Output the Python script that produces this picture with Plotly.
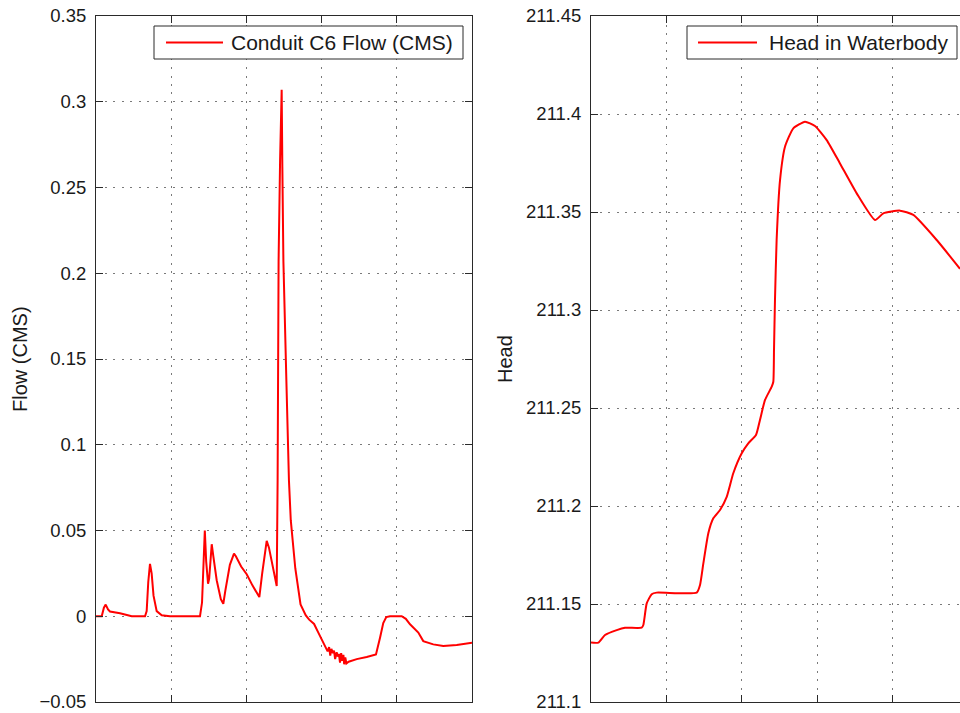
import plotly.graph_objects as go

# ---- data (time in grid units) ----
flow_t = [0.0, 0.076, 0.105, 0.129, 0.16, 0.186, 0.319, 0.40, 0.475, 0.652, 0.674, 0.695, 0.718, 0.74,
          0.765, 0.807, 0.874, 0.984, 1.383, 1.41, 1.43, 1.447, 1.465, 1.49, 1.505, 1.53, 1.539, 1.56,
          1.605, 1.66, 1.693, 1.72, 1.78, 1.835, 1.86, 1.93, 2.004, 2.08, 2.172, 2.21, 2.25, 2.27, 2.30,
          2.336, 2.38, 2.403, 2.415, 2.428, 2.448, 2.469, 2.478, 2.492, 2.53, 2.566, 2.59, 2.65, 2.72,
          2.79, 2.835, 2.90, 2.95, 3.00, 3.06, 3.08, 3.10, 3.115, 3.13, 3.15, 3.165, 3.18, 3.20, 3.215,
          3.23, 3.245, 3.26, 3.275, 3.29, 3.30, 3.315, 3.33, 3.36, 3.467, 3.60, 3.723, 3.777, 3.82, 3.86,
          3.91, 4.065, 4.12, 4.176, 4.286, 4.352, 4.485, 4.618, 4.797, 5.0]
flow_v = [0.0, 0.0, 0.005, 0.0068, 0.004, 0.0028, 0.0018, 0.0008, 0.0, 0.0, 0.003, 0.02, 0.0305, 0.025,
          0.012, 0.003, 0.0006, 0.0, 0.0, 0.008, 0.028, 0.050, 0.032, 0.019, 0.022, 0.041, 0.042, 0.035,
          0.021, 0.010, 0.0073, 0.015, 0.030, 0.0365, 0.035, 0.029, 0.0245, 0.018, 0.0112, 0.025, 0.040,
          0.044, 0.040, 0.032, 0.021, 0.0176, 0.079, 0.207, 0.266, 0.307, 0.262, 0.207, 0.14, 0.079,
          0.056, 0.028, 0.0069, 0.0005, -0.002, -0.0045, -0.009, -0.0135, -0.0184, -0.0205, -0.018,
          -0.023, -0.019, -0.0215, -0.020, -0.025, -0.021, -0.0235, -0.022, -0.027, -0.0215, -0.026,
          -0.0225, -0.028, -0.024, -0.0275, -0.0265, -0.025, -0.0238, -0.0223, -0.0125, -0.004, -0.0005,
          0.0, 0.0, -0.0015, -0.0047, -0.0095, -0.0145, -0.0164, -0.0174, -0.0168, -0.0155]

head_t = [0.0, 0.097, 0.186, 0.341, 0.451, 0.672, 0.694, 0.739, 0.805, 0.871, 1.402, 1.446, 1.490, 1.556,
          1.622, 1.711, 1.800, 1.887, 1.999, 2.086, 2.188, 2.241, 2.308, 2.397, 2.418, 2.427, 2.440,
          2.462, 2.507, 2.573, 2.683, 2.838, 2.971, 3.126, 3.302, 3.524, 3.767, 3.877, 4.098, 4.275,
          4.585, 4.894]
head_v = [211.1303, 211.1303, 211.1342, 211.1367, 211.1379, 211.1379, 211.1393, 211.1503, 211.1550,
          211.1558, 211.1558, 211.1597, 211.1707, 211.1861, 211.1937, 211.1980, 211.2047, 211.2167,
          211.2269, 211.2320, 211.2362, 211.2439, 211.2541, 211.2609, 211.2634, 211.2796, 211.3051,
          211.3357, 211.3663, 211.3833, 211.3927, 211.3961, 211.3939, 211.3867, 211.3748, 211.3595,
          211.3459, 211.3493, 211.3507, 211.3485, 211.3357, 211.3210]

flow_label = "Conduit C6 Flow (CMS)"
head_label = "Head in Waterbody"
flow_title = "Flow (CMS)"
head_title = "Head"

W, H = 960, 713
FONT = "Liberation Sans, Arial, sans-serif"
RED = "#ff0000"
AX = "#2a2a2a"

fig = go.Figure()
fig.add_trace(go.Scatter(x=flow_t, y=flow_v, mode="lines", line=dict(color=RED, width=2),
                         xaxis="x", yaxis="y", showlegend=False))
fig.add_trace(go.Scatter(x=head_t, y=head_v, mode="lines",
                         line=dict(color=RED, width=2, shape="spline", smoothing=0.5),
                         xaxis="x2", yaxis="y2", showlegend=False))

grid = dict(showgrid=True, gridcolor="#7a7a7a", gridwidth=1, griddash="2px,6.5px", zeroline=False,
            showline=True, linecolor=AX, linewidth=1, ticks="inside", ticklen=7, tickcolor=AX,
            tickfont=dict(family=FONT, size=18.5, color="#1a1a1a"))

fig.update_layout(
    width=W, height=H, paper_bgcolor="white", plot_bgcolor="white",
    margin=dict(l=0, r=0, t=16, b=11),
    xaxis=dict(domain=[96 / W, 472 / W], range=[0, 5], dtick=1, tick0=0, showticklabels=False,
               mirror="ticks", anchor="y", **grid),
    yaxis=dict(domain=[0, 1], range=[-0.05, 0.35], dtick=0.05, tick0=0, mirror="ticks",
               anchor="x", ticklabelstandoff=5, **grid),
    xaxis2=dict(domain=[591 / W, 1.0], range=[0, (960 - 591) / 75.4], dtick=1, tick0=0,
                showticklabels=False, mirror="ticks", anchor="y2", **grid),
    yaxis2=dict(domain=[0, 1], range=[211.1, 211.45], dtick=0.05, tick0=211.1, mirror=False,
                anchor="x2", ticklabelstandoff=5, **grid),
)

PH = H - 16 - 11  # plot-area height in px


def py(p):
    return (702 - p) / PH


shapes = []
annotations = []
# legends (boxes, sample lines, labels)
for (bx0, bx1, lx0, lx1, tx, label) in [(154, 463, 166, 223, 229, flow_label),
                                        (687, 957, 698, 757, 767, head_label)]:
    shapes.append(dict(type="rect", xref="paper", yref="paper", x0=bx0 / W, x1=bx1 / W,
                       y0=py(59), y1=py(26), line=dict(color=AX, width=1), fillcolor="white",
                       layer="above"))
    shapes.append(dict(type="line", xref="paper", yref="paper", x0=lx0 / W, x1=lx1 / W,
                       y0=py(42.5), y1=py(42.5), line=dict(color=RED, width=2), layer="above"))
    annotations.append(dict(text=label, xref="paper", yref="paper", x=tx / W, y=py(42.5),
                            xanchor="left", yanchor="middle", showarrow=False,
                            font=dict(family=FONT, size=21, color="#1a1a1a")))

annotations.append(dict(text=flow_title, xref="paper", yref="paper", x=20 / W, y=0.5, textangle=-90,
                        xanchor="center", yanchor="middle", showarrow=False,
                        font=dict(family=FONT, size=20, color="#1a1a1a")))
annotations.append(dict(text=head_title, xref="paper", yref="paper", x=505 / W, y=0.5, textangle=-90,
                        xanchor="center", yanchor="middle", showarrow=False,
                        font=dict(family=FONT, size=20, color="#1a1a1a")))

fig.update_layout(shapes=shapes, annotations=annotations)
fig.write_html("out.html", config={"displayModeBar": False},
               post_script="document.body.style.margin='0';document.body.style.overflow='hidden';")
